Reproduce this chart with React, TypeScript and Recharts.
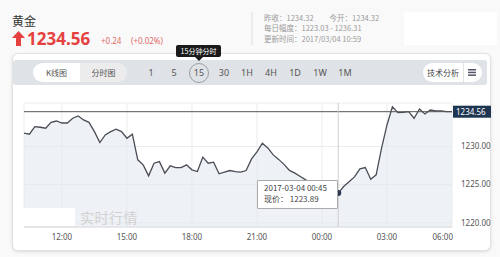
import React from 'react';
import { AreaChart, Area, XAxis, YAxis, CartesianGrid, Tooltip, ReferenceLine } from 'recharts';

const prices = [
  1231.74, 1231.61, 1232.6, 1232.52, 1232.39, 1233.17, 1233.34, 1233.08, 1233.08, 1233.7,
  1234.0, 1233.48, 1233.17, 1231.95, 1230.51, 1231.51, 1231.95, 1232.26, 1231.95, 1231.08,
  1231.61, 1228.25, 1227.59, 1226.15, 1227.81, 1228.02, 1226.51, 1227.46, 1227.24, 1227.24,
  1227.59, 1226.94, 1226.72, 1228.6, 1227.81, 1227.95, 1226.42, 1226.64, 1226.85, 1226.72,
  1226.64, 1226.85, 1228.38, 1229.29, 1230.43, 1229.81, 1228.9, 1228.31, 1227.66, 1226.87,
  1226.51, 1226.06, 1225.63, 1225.24, 1224.85, 1224.59, 1224.32, 1224.06, 1223.89, 1224.76,
  1225.37, 1226.02, 1227.07, 1227.24, 1225.72, 1226.29, 1229.78, 1232.82, 1235.21, 1234.43,
  1234.48, 1234.56, 1233.7, 1234.91, 1234.26, 1234.78, 1234.65, 1234.65, 1234.56, 1234.56,
];
const startHour = 10.25;
const stepHour = 0.25;
const xTicks = [12, 15, 18, 21, 24, 27, 30];
const yTicks = [1220, 1225, 1230];
const lastPrice = 1234.56;
const tooltipIndex = 58;
const periods = ['1', '5', '15', '30', '1H', '4H', '1D', '1W', '1M'];

const pad = (n: number) => (n < 10 ? '0' + n : '' + n);
const fmtTime = (t: number) => {
  const h = Math.floor(t) % 24;
  const m = Math.round((t - Math.floor(t)) * 60);
  return pad(h) + ':' + pad(m);
};
const fmtDate = (t: number) => (t >= 24 ? '2017-03-04' : '2017-03-03');

const data = prices.map((p, i) => ({ t: startHour + i * stepHour, price: p }));

const CJK = '"Noto Sans CJK SC", "Noto Sans", sans-serif';

const TipContent = (props: any) => {
  const { payload } = props;
  if (!payload || !payload.length) return null;
  const d = payload[0].payload;
  return (
    <div style={{ width: 73, height: 25, background: '#fff', border: '1px solid #aaa', fontFamily: CJK, fontSize: 8, color: '#444', padding: '2px 0 0 6px', boxSizing: 'content-box', lineHeight: '10.5px', borderRadius: 1 }}>
      <div>{fmtDate(d.t)} {fmtTime(d.t)}</div>
      <div>现价： {d.price.toFixed(2)}</div>
    </div>
  );
};

const XTick = (props: any) => {
  const { x, y, payload } = props;
  const last = payload.value === xTicks[xTicks.length - 1];
  return (
    <text x={last ? x + 1 : x} y={y + 5} textAnchor={last ? 'end' : 'middle'} fontSize={8} fill="#555" fontFamily="Noto Sans, sans-serif">
      {fmtTime(payload.value)}
    </text>
  );
};

const RefLabel = (props: any) => {
  const { viewBox } = props;
  const x = viewBox.x + viewBox.width;
  const y = viewBox.y;
  return (
    <g>
      <rect x={x + 1} y={y - 6} width={38} height={12} fill="#1f3652" />
      <text x={x + 4} y={y + 3} fontSize={8} fill="#fff" fontFamily="Noto Sans, sans-serif">{lastPrice.toFixed(2)}</text>
    </g>
  );
};

export default function App() {
  return (
    <div style={{ position: 'absolute', left: 0, top: 0, width: 500, height: 257, background: '#f9f9f9', overflow: 'hidden', fontFamily: CJK }}>
      {/* header */}
      <div style={{ position: 'absolute', left: 12, top: 12, fontSize: 12, color: '#333' }}>黄金</div>
      <svg style={{ position: 'absolute', left: 12, top: 31 }} width={13} height={15}>
        <polygon points="6.5,0 13,7 9,7 9,15 4,15 4,7 0,7" fill="#e5413f" />
      </svg>
      <div style={{ position: 'absolute', left: 27, top: 27, fontSize: 17, fontWeight: 'bold', color: '#e5413f', fontFamily: 'Noto Sans, sans-serif' }}>{lastPrice.toFixed(2)}</div>
      <div style={{ position: 'absolute', left: 101, top: 35, fontSize: 8, color: '#e06a68', fontFamily: 'Noto Sans, sans-serif' }}>+0.24</div>
      <div style={{ position: 'absolute', left: 131, top: 35, fontSize: 8, color: '#e06a68', fontFamily: 'Noto Sans, sans-serif' }}>(+0.02%)</div>
      <div style={{ position: 'absolute', left: 251, top: 12, width: 2, height: 33, background: '#ececec' }} />
      <div style={{ position: 'absolute', left: 404, top: 12, width: 93, height: 33, background: '#fff' }} />
      <div style={{ position: 'absolute', left: 264, top: 13, fontSize: 7.5, color: '#999', lineHeight: '10.3px' }}>
        <div>昨收：1234.32<span style={{ marginLeft: 16 }}>今开：1234.32</span></div>
        <div>每日幅度：1223.03 - 1236.31</div>
        <div>更新时间：2017/03/04 10:59</div>
      </div>

      {/* card */}
      <div style={{ position: 'absolute', left: 12, top: 53, width: 477, height: 196, background: '#fff', border: '1px solid #e3e3e3', borderRadius: 6, boxShadow: '0 1px 3px rgba(0,0,0,0.12)' }} />
      {/* toolbar */}
      <div style={{ position: 'absolute', left: 13, top: 60, width: 474, height: 25, background: '#dfe2e6', borderRadius: 3 }} />
      <div style={{ position: 'absolute', left: 33, top: 63, width: 47, height: 19, background: '#fff', borderRadius: '10px 0 0 10px', fontSize: 8, color: '#555', textAlign: 'center', lineHeight: '19px' }}>K线图</div>
      <div style={{ position: 'absolute', left: 80, top: 63, width: 47, height: 19, background: '#ececec', borderRadius: '0 10px 10px 0', fontSize: 8, color: '#555', textAlign: 'center', lineHeight: '19px' }}>分时图</div>
      {periods.map((p, i) => {
        const cx = [151, 174, 199, 224, 247, 271, 295, 320, 345][i];
        const sel = p === '15';
        return (
          <div key={p} style={{ position: 'absolute', left: cx - 10, top: 63, width: 18, height: 18, borderRadius: 10, border: sel ? '1px solid #9aa0a6' : '1px solid transparent', fontSize: 9, color: '#555', textAlign: 'center', lineHeight: '18px', fontFamily: 'Noto Sans, sans-serif' }}>{p}</div>
        );
      })}
      <div style={{ position: 'absolute', left: 423, top: 63, width: 59, height: 19, background: '#fff', borderRadius: 10 }} />
      <div style={{ position: 'absolute', left: 423, top: 63, width: 40, height: 19, fontSize: 8, color: '#444', textAlign: 'center', lineHeight: '19px', borderRight: '1px solid #e3e3e3' }}>技术分析</div>
      <svg style={{ position: 'absolute', left: 468, top: 69 }} width={8} height={7}>
        <rect x={0} y={0} width={8} height={1.5} fill="#556" />
        <rect x={0} y={2.7} width={8} height={1.5} fill="#556" />
        <rect x={0} y={5.4} width={8} height={1.5} fill="#556" />
      </svg>
      {/* 15min tooltip */}
      <div style={{ position: 'absolute', left: 176, top: 45, width: 45, height: 12, background: '#1a1a1a', borderRadius: 2, color: '#fff', fontSize: 7, textAlign: 'center', lineHeight: '12px' }}>15分钟分时</div>
      <svg style={{ position: 'absolute', left: 195, top: 57 }} width={8} height={4}>
        <polygon points="0,0 8,0 4,4" fill="#1a1a1a" />
      </svg>

      {/* chart */}
      <div style={{ position: 'absolute', left: 0, top: 0 }}>
        <AreaChart width={500} height={257} data={data} margin={{ top: 103, right: 8, bottom: 10, left: 24 }}>
          <CartesianGrid stroke="#ececec" strokeWidth={1} />
          <XAxis dataKey="t" type="number" domain={[startHour, 30]} ticks={xTicks} tick={<XTick />} tickLine={false} axisLine={{ stroke: '#dcdcdc' }} height={20} interval={0} />
          <YAxis orientation="right" type="number" domain={[1219.45, 1235.7]} ticks={yTicks} tickFormatter={(v: number) => v.toFixed(2)} tick={{ fontSize: 8, fill: '#555', fontFamily: 'Noto Sans, sans-serif', textAnchor: 'start' }} tickLine={false} axisLine={false} tickMargin={3} width={40} />
          <ReferenceLine y={lastPrice} stroke="#555" strokeWidth={1} label={<RefLabel />} ifOverflow="extendDomain" />
          <Area type="linear" dataKey="price" stroke="#4a4d55" strokeWidth={1.3} fill="#e3e7f0" fillOpacity={0.6} isAnimationActive={false} dot={false} activeDot={{ r: 3, fill: '#2b3550', stroke: 'none' }} />
          <Tooltip active={true} defaultIndex={tooltipIndex} content={<TipContent />} cursor={{ stroke: '#cfcfcf', strokeWidth: 1 }} position={{ x: 257, y: 180 }} isAnimationActive={false} wrapperStyle={{ outline: 'none' }} />
        </AreaChart>
      </div>

      {/* watermark */}
      <div style={{ position: 'absolute', left: 22, top: 208, width: 53, height: 18, background: '#fff' }} />
      <div style={{ position: 'absolute', left: 80, top: 207, fontSize: 14, color: '#d2d2d2', letterSpacing: 0.5 }}>实时行情</div>
    </div>
  );
}
